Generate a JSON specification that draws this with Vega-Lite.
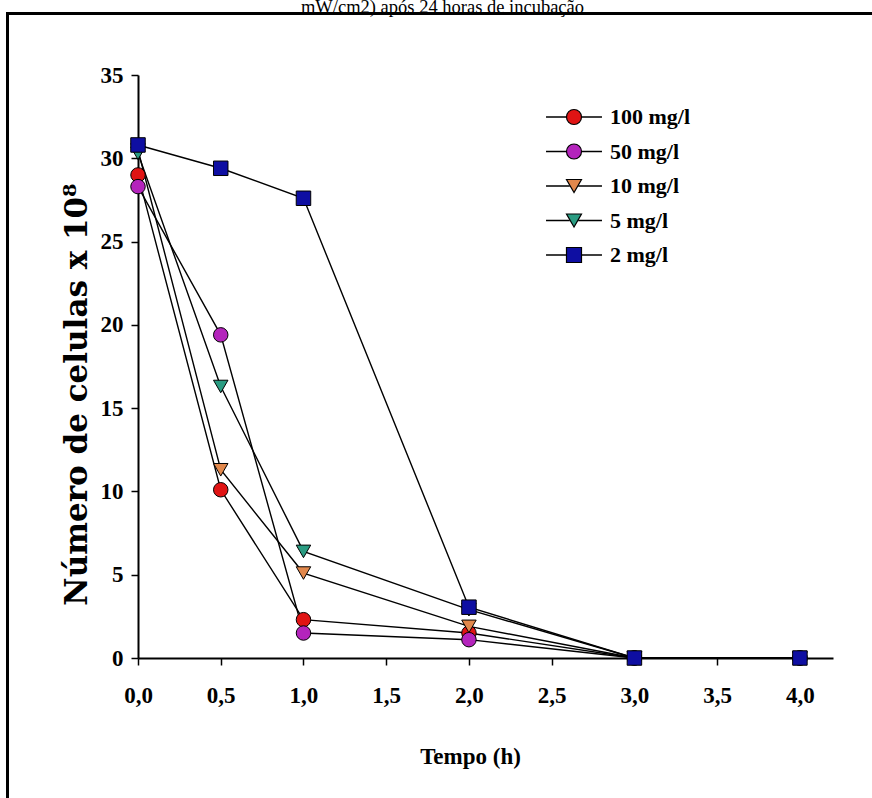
{
  "$schema": "https://vega.github.io/schema/vega-lite/v6.json",
  "width": 695,
  "height": 583,
  "autosize": {"type": "none"},
  "padding": {"left": 138, "top": 75, "right": 39, "bottom": 140},
  "background": "white",
  "config": {"view": {"stroke": null}, "font": "Liberation Serif"},
  "title": {
    "text": "mW/cm2) após 24 horas de incubação",
    "font": "Liberation Serif",
    "fontSize": 18.5,
    "fontWeight": "normal",
    "color": "black",
    "anchor": "middle",
    "dx": -43,
    "offset": -3.5
  },
  "data": {
    "values": [
      {"t": 0, "n": 29.0, "conc": "100 mg/l"},
      {"t": 0.5, "n": 10.1, "conc": "100 mg/l"},
      {"t": 1, "n": 2.3, "conc": "100 mg/l"},
      {"t": 2, "n": 1.5, "conc": "100 mg/l"},
      {"t": 3, "n": 0, "conc": "100 mg/l"},
      {"t": 4, "n": 0, "conc": "100 mg/l"},
      {"t": 0, "n": 28.3, "conc": "50 mg/l"},
      {"t": 0.5, "n": 19.4, "conc": "50 mg/l"},
      {"t": 1, "n": 1.5, "conc": "50 mg/l"},
      {"t": 2, "n": 1.1, "conc": "50 mg/l"},
      {"t": 3, "n": 0, "conc": "50 mg/l"},
      {"t": 4, "n": 0, "conc": "50 mg/l"},
      {"t": 0, "n": 30.5, "conc": "10 mg/l"},
      {"t": 0.5, "n": 11.3, "conc": "10 mg/l"},
      {"t": 1, "n": 5.1, "conc": "10 mg/l"},
      {"t": 2, "n": 1.9, "conc": "10 mg/l"},
      {"t": 3, "n": 0, "conc": "10 mg/l"},
      {"t": 4, "n": 0, "conc": "10 mg/l"},
      {"t": 0, "n": 30.3, "conc": "5 mg/l"},
      {"t": 0.5, "n": 16.3, "conc": "5 mg/l"},
      {"t": 1, "n": 6.4, "conc": "5 mg/l"},
      {"t": 2, "n": 2.9, "conc": "5 mg/l"},
      {"t": 3, "n": 0, "conc": "5 mg/l"},
      {"t": 4, "n": 0, "conc": "5 mg/l"},
      {"t": 0, "n": 30.8, "conc": "2 mg/l"},
      {"t": 0.5, "n": 29.4, "conc": "2 mg/l"},
      {"t": 1, "n": 27.6, "conc": "2 mg/l"},
      {"t": 2, "n": 3.05, "conc": "2 mg/l"},
      {"t": 3, "n": 0, "conc": "2 mg/l"},
      {"t": 4, "n": 0, "conc": "2 mg/l"}
    ]
  },
  "layer": [
    {
      "mark": {"type": "rect", "filled": false, "stroke": "black", "strokeWidth": 2},
      "encoding": {
        "x": {"datum": -0.789, "type": "quantitative", "scale": {"domain": [0, 4.2], "nice": false, "zero": false}},
        "x2": {"datum": 4.46},
        "y": {"datum": 38.69, "type": "quantitative", "scale": {"domain": [0, 35], "nice": false, "zero": false}},
        "y2": {"datum": -8.89}
      }
    },
    {
      "mark": {"type": "line", "strokeWidth": 1.4},
      "encoding": {
        "x": {"field": "t", "type": "quantitative"},
        "y": {"field": "n", "type": "quantitative"},
        "stroke": {
          "field": "conc", "type": "nominal",
          "scale": {"range": ["black", "black", "black", "black", "black"]},
          "legend": {
            "orient": "none", "legendX": 425, "legendY": 31,
            "title": null, "padding": 0,
            "labelFont": "Liberation Serif", "labelFontSize": 22, "labelFontWeight": "bold",
            "labelExpr": "'\u00a0'", "labelOffset": 0, "rowPadding": 12.5,
            "symbolType": "M-3.73,0H-0.56M0.56,0H3.73",
            "symbolSize": 225, "symbolStrokeWidth": 1.4, "symbolStrokeColor": "black"
          }
        }
      }
    },
    {
      "mark": {"type": "point", "filled": true, "stroke": "black", "strokeWidth": 1, "opacity": 1, "size": 210},
      "encoding": {
        "x": {
          "field": "t", "type": "quantitative",
          "axis": {
            "values": [0, 0.5, 1, 1.5, 2, 2.5, 3, 3.5, 4],
            "labelExpr": "replace(format(datum.value, '.1f'), '.', ',')",
            "labelFont": "Liberation Serif", "labelFontSize": 23, "labelFontWeight": "bold", "labelColor": "black",
            "labelPadding": 19, "labelFlush": false,
            "tickSize": 7, "tickColor": "black", "tickWidth": 1.5,
            "domainColor": "black", "domainWidth": 2,
            "grid": false,
            "title": "Tempo (h)",
            "titleFont": "Liberation Serif", "titleFontSize": 23, "titleFontWeight": "bold", "titleColor": "black",
            "titleX": 332, "titleY": 98, "titleBaseline": "middle"
          }
        },
        "y": {
          "field": "n", "type": "quantitative",
          "axis": {
            "values": [0, 5, 10, 15, 20, 25, 30, 35],
            "labelFont": "Liberation Serif", "labelFontSize": 23, "labelFontWeight": "bold", "labelColor": "black",
            "labelPadding": 8, "labelFlush": false,
            "tickSize": 7, "tickColor": "black", "tickWidth": 1.5,
            "domainColor": "black", "domainWidth": 2,
            "grid": false,
            "title": "Número de celulas x 10⁸",
            "titleFont": "DejaVu Serif", "titleFontSize": 31, "titleFontWeight": "bold", "titleColor": "black",
            "titleX": -61, "titleY": 319, "titleBaseline": "middle"
          }
        },
        "fill": {
          "field": "conc", "type": "nominal",
          "scale": {
            "domain": ["100 mg/l", "50 mg/l", "10 mg/l", "5 mg/l", "2 mg/l"],
            "range": ["#e01414", "#b424bc", "#e2884c", "#2a9c82", "#0e0ea2"]
          },
          "legend": {
            "orient": "none", "legendX": 425, "legendY": 31,
            "title": null, "padding": 0,
            "labelFont": "Liberation Serif", "labelFontSize": 22, "labelFontWeight": "bold", "labelColor": "black",
            "labelOffset": 25, "rowPadding": 12.5,
            "symbolSize": 225, "symbolStrokeWidth": 1.2, "symbolStrokeColor": "black",
            "labelExpr": "datum.label == '5 mg/l' || datum.label == '2 mg/l' ? '\u2007' + datum.label : datum.label"
          }
        },
        "shape": {
          "field": "conc", "type": "nominal",
          "scale": {
            "domain": ["100 mg/l", "50 mg/l", "10 mg/l", "5 mg/l", "2 mg/l"],
            "range": ["circle", "circle", "triangle-down", "triangle-down", "square"]
          }
        }
      }
    }
  ]
}
